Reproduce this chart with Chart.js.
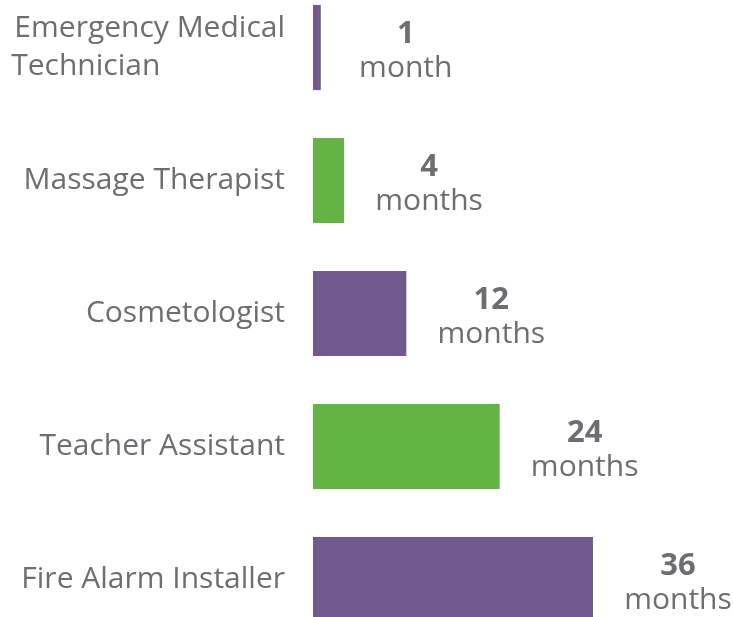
<!DOCTYPE html>
<html>
<head>
<meta charset="utf-8">
<script src="https://cdn.jsdelivr.net/npm/chart.js@4/dist/chart.umd.min.js"></script>
<style>
  html, body { margin: 0; padding: 0; background: #ffffff; overflow: hidden; width: 733px; height: 617px; }
  #wrap { position: absolute; left: 0; top: -19px; width: 733px; height: 665px; }
</style>
</head>
<body>
<div id="wrap"><canvas id="c"></canvas></div>
<script>
const categories = [
  ["Emergency Medical", "Technician"],
  "Massage Therapist",
  "Cosmetologist",
  "Teacher Assistant",
  "Fire Alarm Installer"
];
const months = [1, 4, 12, 24, 36];
const unitLabels = ["month", "months", "months", "months", "months"];
const barColors = ["#725a8f", "#63b345", "#725a8f", "#63b345", "#725a8f"];

const textGray = "#6d6e71";
const fontFamily = "'Open Sans', 'Liberation Sans', sans-serif";
const tickFontSize = 30;

// Left-align the lines of a multi-line label inside its right-aligned block
// by padding shorter lines with trailing spaces (text stays real text).
function leftAlignLines(label) {
  if (!Array.isArray(label)) return label;
  const m = document.createElement("canvas").getContext("2d");
  m.font = tickFontSize + "px " + fontFamily;
  const widest = Math.max(...label.map(l => m.measureText(l).width));
  const space = m.measureText(" ").width;
  return label.map(l => {
    let s = l;
    while (m.measureText(s + " ").width <= widest + space / 2) s += " ";
    return s;
  });
}

const valueLabelPlugin = {
  id: "valueLabels",
  afterDatasetsDraw(chart) {
    const ctx = chart.ctx;
    const meta = chart.getDatasetMeta(0);
    ctx.save();
    ctx.fillStyle = textGray;
    ctx.textAlign = "center";
    ctx.textBaseline = "alphabetic";
    meta.data.forEach((bar, i) => {
      const cx = bar.x + 85;
      ctx.font = "bold 31px " + fontFamily;
      ctx.fillText(String(months[i]), cx, bar.y - 5);
      ctx.font = "30px " + fontFamily;
      ctx.fillText(unitLabels[i], cx, bar.y + 29);
    });
    ctx.restore();
  }
};

new Chart(document.getElementById("c"), {
  type: "bar",
  data: {
    labels: categories,
    datasets: [{
      data: months,
      backgroundColor: barColors,
      borderWidth: 0,
      categoryPercentage: 1.0,
      barPercentage: 0.64
    }]
  },
  options: {
    indexAxis: "y",
    responsive: true,
    maintainAspectRatio: false,
    animation: false,
    layout: { padding: 0 },
    plugins: { legend: { display: false }, tooltip: { enabled: false } },
    scales: {
      x: {
        min: 0, max: 54,
        display: false,
        grid: { display: false }
      },
      y: {
        grid: { display: false, drawTicks: false },
        border: { display: false },
        afterFit(scale) {
          scale.width = 313;
          scale.paddingTop = 0;
          scale.paddingBottom = 0;
        },
        ticks: {
          color: textGray,
          padding: 28,
          font: { family: fontFamily, size: tickFontSize, lineHeight: 1.27 },
          crossAlign: "near",
          callback(value) { return leftAlignLines(categories[value]); }
        }
      }
    }
  },
  plugins: [valueLabelPlugin]
});
</script>
</body>
</html>
